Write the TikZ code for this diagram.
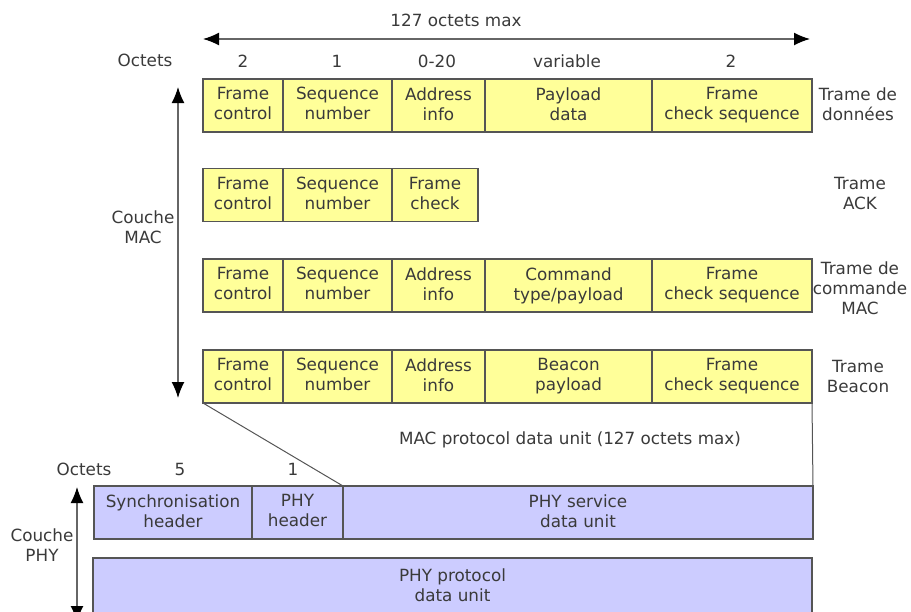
\documentclass[tikz,border=0pt]{standalone}
\usepackage{fontspec}
\setmainfont{DejaVu Sans}
\usetikzlibrary{arrows.meta}
\definecolor{ylw}{HTML}{FFFF99}
\definecolor{prp}{HTML}{CCCCFF}
\definecolor{brd}{HTML}{555555}
\definecolor{txt}{HTML}{3A3A3A}
\begin{document}
\begin{tikzpicture}[x=1pt,y=-1pt,
  lbl/.style={text=txt,font=\fontsize{16.8}{20}\selectfont,align=center,inner sep=0pt},
  yfield/.style={lbl,draw=brd,line width=1.3pt,fill=ylw,minimum height=53,outer sep=0pt,execute at end node=\vphantom{g}},
  pfield/.style={lbl,draw=brd,line width=1.3pt,fill=prp,outer sep=0pt,execute at end node=\vphantom{g}},
  arr/.style={draw=gray!80!black,line width=1.4pt,{Latex[length=16,width=13,black]}-{Latex[length=16,width=13,black]}},
  thin/.style={draw=brd,line width=1pt}]
\useasboundingbox (0,0) rectangle (911,611);
% top arrow
\coordinate (tl) at (203,39);
\coordinate (tr) at (810,39);
\draw[arr] (tl) -- (tr);
\node[lbl] (tmax) at (456,20) {127 octets max};
\node[lbl] (oct1) at (145,60) {Octets};
\node[lbl] (n1) at (243,61) {2};
\node[lbl] (n2) at (337,61) {1};
\node[lbl] (n3) at (437,61) {0-20};
\node[lbl] (n4) at (567,61) {variable};
\node[lbl] (n5) at (731,61) {2};
% row 1
\node[yfield,minimum width=80]  (r1a) at (243,105.5) {Frame\\control};
\node[yfield,minimum width=109] (r1b) at (337.5,105.5) {Sequence\\number};
\node[yfield,minimum width=93]  (r1c) at (438.5,105.5) {Address\\info};
\node[yfield,minimum width=167] (r1d) at (568.5,105.5) {Payload\\data};
\node[yfield,minimum width=160] (r1e) at (732,105.5) {Frame\\check sequence};
\node[lbl] (l1) at (858,104) {Trame de\\données};
% row 2
\node[yfield,minimum width=80]  (r2a) at (243,195) {Frame\\control};
\node[yfield,minimum width=109] (r2b) at (337.5,195) {Sequence\\number};
\node[yfield,minimum width=86]  (r2c) at (435,195) {Frame\\check};
\node[lbl] (l2) at (860,193) {Trame\\ACK};
% row 3
\node[yfield,minimum width=80]  (r3a) at (243,285.5) {Frame\\control};
\node[yfield,minimum width=109] (r3b) at (337.5,285.5) {Sequence\\number};
\node[yfield,minimum width=93]  (r3c) at (438.5,285.5) {Address\\info};
\node[yfield,minimum width=167] (r3d) at (568.5,285.5) {Command\\type/payload};
\node[yfield,minimum width=160] (r3e) at (732,285.5) {Frame\\check sequence};
\node[lbl] (l3) at (860,288) {Trame de\\commande\\MAC};
% row 4
\node[yfield,minimum width=80]  (r4a) at (243,376.5) {Frame\\control};
\node[yfield,minimum width=109] (r4b) at (337.5,376.5) {Sequence\\number};
\node[yfield,minimum width=93]  (r4c) at (438.5,376.5) {Address\\info};
\node[yfield,minimum width=167] (r4d) at (568.5,376.5) {Beacon\\payload};
\node[yfield,minimum width=160] (r4e) at (732,376.5) {Frame\\check sequence};
\node[lbl] (l4) at (858,376) {Trame\\Beacon};
% MAC arrow
\coordinate (mt) at (178,87);
\coordinate (mb) at (178,398);
\draw[arr] (mt) -- (mb);
\node[lbl,fill=white,inner xsep=1pt] (cmac) at (143,227) {Couche\\MAC};
% PHY row
\node[lbl] (oct2) at (84,469) {Octets};
\node[lbl] (p5) at (180,469) {5};
\node[lbl] (p1) at (293,469) {1};
\node[pfield,minimum width=158,minimum height=53] (pa) at (173,512.5) {Synchronisation\\header};
\node[pfield,minimum width=91,minimum height=53]  (pb) at (297.5,512.5) {PHY\\header};
\node[pfield,minimum width=470,minimum height=53] (pc) at (578,512.5) {PHY service\\data unit};
\node[pfield,minimum width=719,minimum height=58] (pd) at (452.5,587) {PHY protocol\\data unit};
% MPDU bracket
\draw[thin] (r4a.south west) -- (pc.north west);
\draw[thin] (r4e.south east) -- (pc.north east);
\node[lbl] (mpdu) at (570,440) {MAC protocol data unit (127 octets max)};
% PHY arrow
\coordinate (pt) at (77,487);
\coordinate (pbt) at (77,622);
\draw[arr] (pt) -- (pbt);
\node[lbl,fill=white,inner xsep=1pt] (cphy) at (42,545) {Couche\\PHY};
\end{tikzpicture}
\end{document}
